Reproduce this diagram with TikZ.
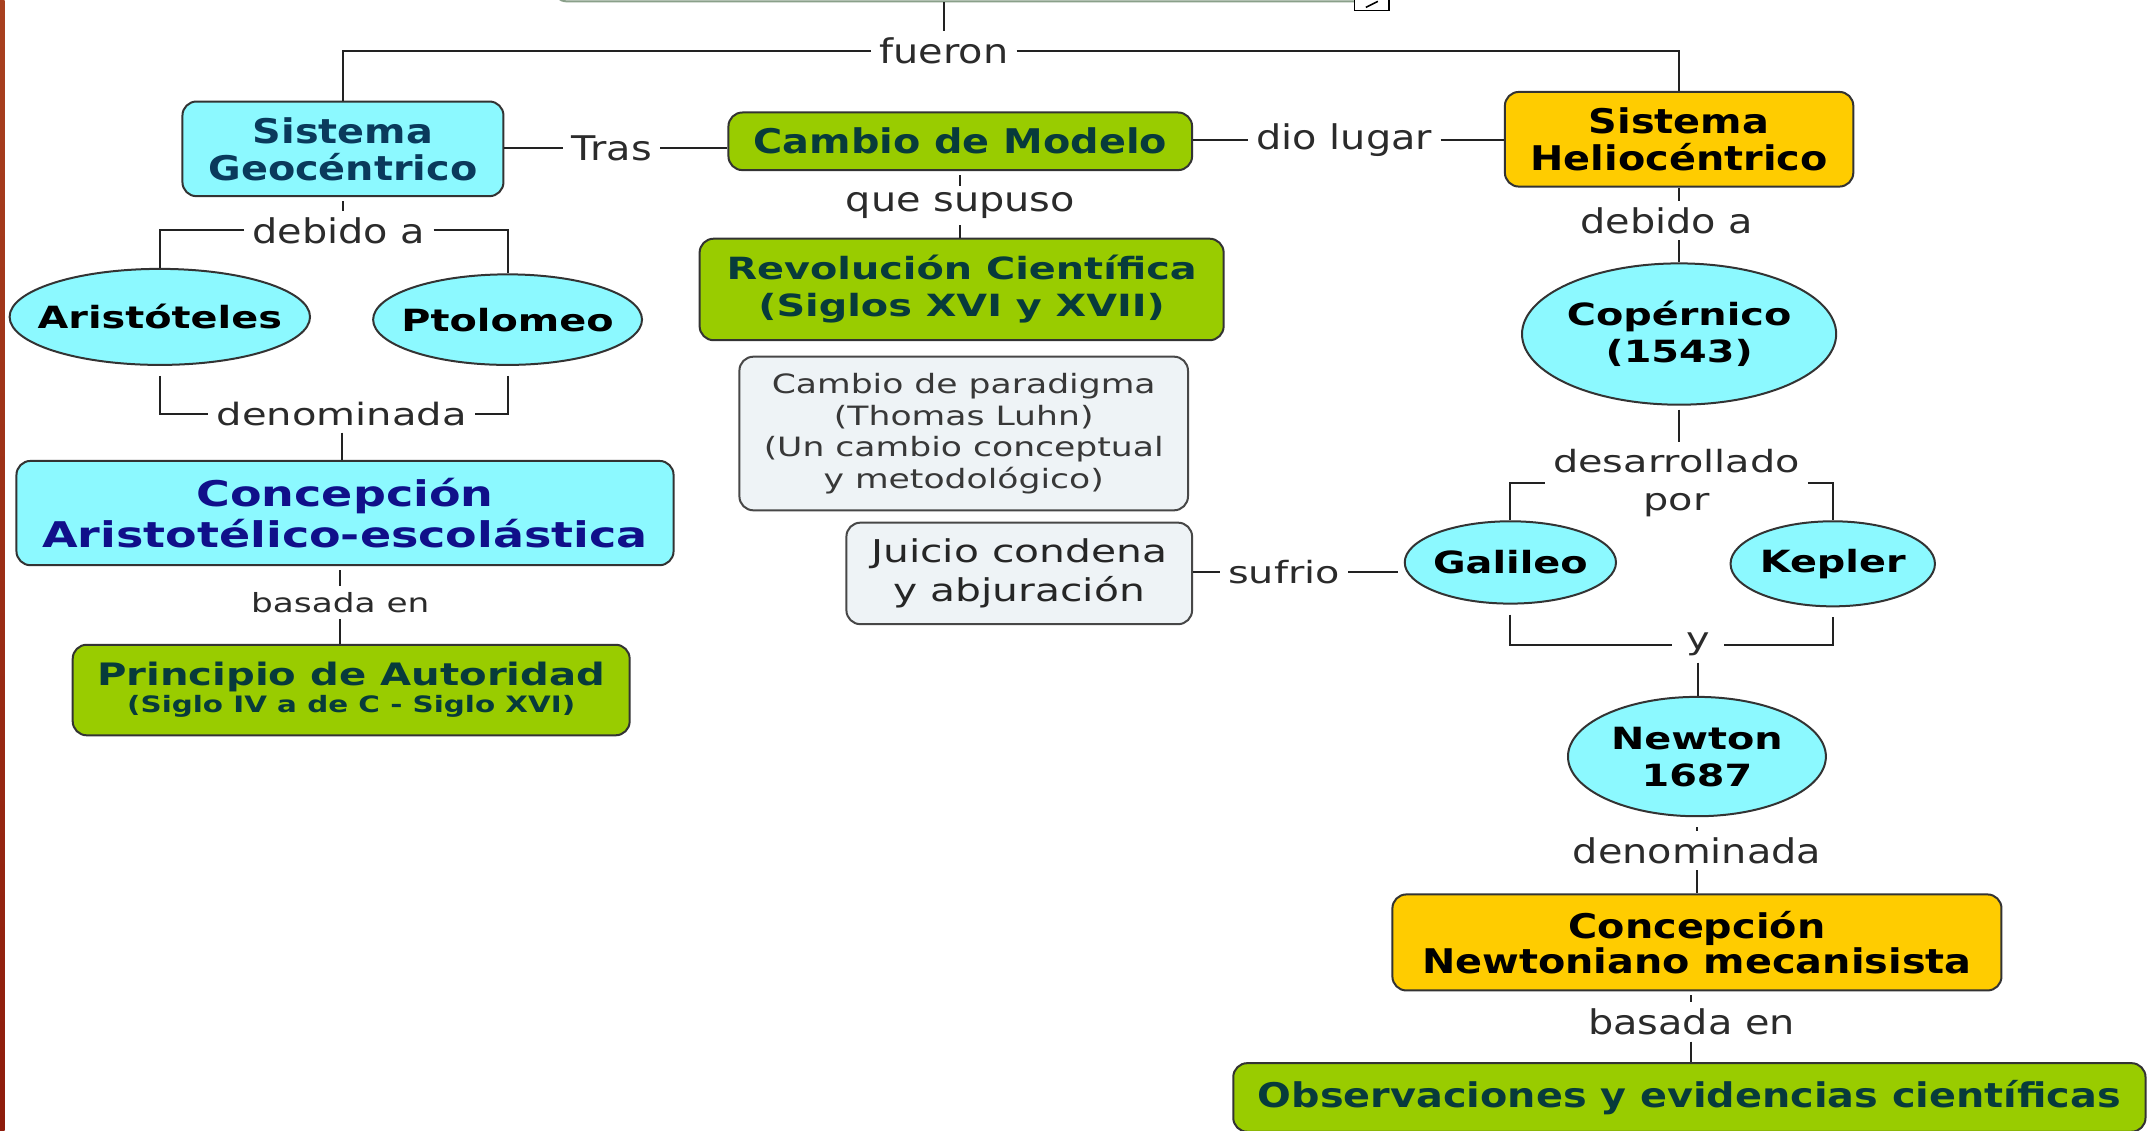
\documentclass[tikz,border=0pt]{standalone}
\usepackage{fontspec}
\setmainfont{DejaVu Sans}
\newfontfamily\famV[FakeStretch=1.3]{DejaVu Sans}
\newfontfamily\famN[FakeStretch=1.17]{DejaVu Sans}
\usetikzlibrary{shapes.geometric}
\newlength\px
\setlength\px{0.6859pt}
\definecolor{cyanf}{HTML}{8CF9FF}
\definecolor{greenf}{HTML}{99CC00}
\definecolor{goldf}{HTML}{FFCC00}
\definecolor{lightf}{HTML}{EEF3F6}
\definecolor{bordc}{HTML}{333333}
\definecolor{linec}{HTML}{222222}
\definecolor{labc}{HTML}{2B2B2B}
\definecolor{geoc}{HTML}{0A3A5C}
\definecolor{navyc}{HTML}{10108A}
\definecolor{greent}{HTML}{073B3B}
\definecolor{topc}{HTML}{8AA08A}
\definecolor{barc}{HTML}{A8401F}
\definecolor{barc2}{HTML}{8E1C0C}
\newcommand\fNB{\famN\bfseries\fontsize{17}{18.5}\selectfont}
\newcommand\fNR{\famN\fontsize{17}{19}\selectfont}
\newcommand\fVB{\famV\bfseries\fontsize{15.3}{18.5}\selectfont}
\newcommand\fVR{\famV\fontsize{15.3}{19.2}\selectfont}
\tikzset{
  concept/.style={draw=bordc, line width=1pt, rounded corners=7pt, inner sep=0pt, align=center},
  cbox/.style={concept, fill=cyanf},
  gbox/.style={concept, fill=greenf, text=greent},
  ybox/.style={concept, fill=goldf, text=black},
  lbox/.style={concept, fill=lightf, draw=bordc!90},
  ell/.style={ellipse, draw=bordc, line width=1pt, fill=cyanf, inner sep=0pt},
  elltext/.style={inner sep=0pt, align=center, text=black, font=\fVB},
  lab/.style={inner xsep=4pt, inner ysep=3pt, text=labc, align=center},
  conn/.style={draw=linec, line width=1pt}
}
\begin{document}
\begin{tikzpicture}[x=0.6859pt,y=-0.6859pt]
\useasboundingbox (0,0) rectangle (1568,824);
\clip (0,0) rectangle (1568,824);
\fill[white] (0,0) rectangle (1568,824);
\shade[top color=barc, bottom color=barc2] (0,0) rectangle (3.3,824);

% top (cut-off) concept
\node[draw=topc, line width=1pt, rounded corners=7pt, fill=white, minimum width=610\px, minimum height=80\px] (top) at (708,-39) {};
\node[draw=black, line width=0.7pt, fill=white, minimum width=25\px, minimum height=13\px, inner sep=0pt] (icon) at (1000,1) {};
\draw[line width=0.8pt] ([xshift=-3pt,yshift=-3pt]icon.center) -- ([xshift=3pt,yshift=0pt]icon.center);

% labels
\node[lab, font=\fNR] (fueron) at (688,37) {fueron};
\node[lab, font=\fNR] (tras) at (446,108) {Tras};
\node[lab, font=\fNR] (dio) at (980,102) {dio lugar};
\node[lab, font=\fNR] (que) at (700,150) {que supuso};
\node[lab, font=\fNR] (debR) at (1215,161) {debido a};
\node[lab, font=\famV\fontsize{15.3}{19.2}\selectfont] (des) at (1222,352) {desarrollado\\por};
\node[lab, font=\fVR] (sufrio) at (936,417) {sufrio};
\node[lab, font=\fVR, inner xsep=7pt] (yy) at (1238,470) {y};
\node[lab, font=\fNR] (denR) at (1237,620) {denominada};
\node[lab, font=\fNR] (basR) at (1233,745) {basada en};
\node[lab, font=\fNR] (debL) at (247,168) {debido a};
\node[lab, font=\famV\fontsize{15.4}{19}\selectfont] (denL) at (249,302) {denominada};
\node[lab, font=\famV\fontsize{13.2}{16}\selectfont] (basL) at (248,439) {basada en};

% concepts
\node[cbox, minimum width=234\px, minimum height=69\px, text=geoc, font=\fNB] (geo) at (250,108.5) {Sistema\\Geocéntrico};
\node[gbox, minimum width=338\px, minimum height=42\px, font=\fNB] (cambio) at (700,103) {Cambio de Modelo};
\node[ybox, minimum width=254\px, minimum height=69\px, font=\fNB] (helio) at (1224,101.5) {Sistema\\Heliocéntrico};
\node[gbox, minimum width=382\px, minimum height=74\px, font=\fVB] (rev) at (701,211) {Revolución Científica\\(Siglos XVI y XVII)};
\node[lbox, minimum width=327\px, minimum height=112\px, text=black!78, font=\famV\fontsize{13.3}{15.8}\selectfont] (para) at (702.5,316) {Cambio de paradigma\\(Thomas Luhn)\\(Un cambio conceptual\\y metodológico)};
\node[lbox, minimum width=252\px, minimum height=74\px, text=black!85, font=\famV\fontsize{15.7}{19.2}\selectfont] (juicio) at (743,418) {Juicio condena\\y abjuración};

\node[ell, minimum width=229\px, minimum height=103\px] (cop) at (1224,243.5) {};
\node[elltext] (copT) at (cop) {Copérnico\\(1543)};
\node[ell, minimum width=154\px, minimum height=60\px] (gal) at (1101,410) {};
\node[elltext] (galT) at (gal) {Galileo};
\node[ell, minimum width=149\px, minimum height=62\px] (kep) at (1336,411) {};
\node[elltext] (kepT) at (kep) {Kepler};
\node[ell, minimum width=188\px, minimum height=87\px] (newton) at (1237,551.5) {};
\node[elltext] (newtonT) at (newton) {Newton\\1687};
\node[ell, minimum width=219\px, minimum height=70\px] (ari) at (116.5,231) {};
\node[elltext] (ariT) at (ari) {Aristóteles};
\node[ell, minimum width=196\px, minimum height=66\px] (pto) at (370,233) {};
\node[elltext] (ptoT) at (pto) {Ptolomeo};

\node[ybox, minimum width=444\px, minimum height=70\px, font=\famN\bfseries\fontsize{17}{17.8}\selectfont] (conN) at (1237,687) {Concepción\\Newtoniano mecanisista};
\node[gbox, minimum width=665\px, minimum height=50\px, font=\fNB] (obs) at (1231.5,800) {Observaciones y evidencias científicas};
\node[cbox, minimum width=479\px, minimum height=76\px, text=navyc, font=\famV\bfseries\fontsize{17.7}{20.6}\selectfont] (conA) at (251.5,374) {Concepción\\Aristotélico-escolástica};
\node[gbox, minimum width=406\px, minimum height=66\px, font=\famV\bfseries] (princ) at (256,503) {\fontsize{15.45}{16.5}\selectfont Principio de Autoridad\\[1.5pt]\fontsize{11.3}{16.5}\selectfont (Siglo IV a de C - Siglo XVI)};

% connectors
\draw[conn] (top.south -| fueron.north) -- (fueron.north);
\draw[conn] (fueron.west) -| (geo.north);
\draw[conn] (fueron.east) -| (helio.north);
\draw[conn] (tras.west -| geo.east) -- (tras.west);
\draw[conn] (tras.east) -- (tras.east -| cambio.west);
\draw[conn] (dio.west -| cambio.east) -- (dio.west);
\draw[conn] (dio.east) -- (dio.east -| helio.west);
\draw[conn, shorten <=2pt] (cambio.south) -- (que.north);
\draw[conn] (que.south) -- (que.south |- rev.north);
\draw[conn] (helio.south) -- (helio.south |- debR.north);
\draw[conn] (helio.south |- debR.south) -- (cop.north);
\draw[conn, shorten <=2pt] (cop.south) -- (cop.south |- des.north);
\draw[conn] (des.west) -| (gal.north);
\draw[conn] (des.east) -| (kep.north);
\draw[conn, shorten <=5pt] (gal.south) |- (yy.west);
\draw[conn, shorten <=5pt] (kep.south) |- (yy.east);
\draw[conn] (yy.south) -- (yy.south |- newton.north);
\draw[conn, shorten <=5pt] (newton.south) -- (denR.north);
\draw[conn] (denR.south) -- (conN.north);
\draw[conn, shorten <=2pt] (conN.south -| basR.north) -- (basR.north);
\draw[conn] (basR.south) -- (basR.south |- obs.north);
\draw[conn] (sufrio.west -| juicio.east) -- (sufrio.west);
\draw[conn, shorten >=3pt] (sufrio.east) -- (sufrio.east -| gal.west);
\draw[conn, shorten <=2pt] (geo.south) -- (geo.south |- debL.north);
\draw[conn] (debL.west) -| (ari.north);
\draw[conn] (debL.east) -| (pto.north);
\draw[conn, shorten <=5pt] (ari.south) |- (denL.west);
\draw[conn, shorten <=5pt] (pto.south) |- (denL.east);
\draw[conn] (denL.south) -- (denL.south |- conA.north);
\draw[conn, shorten <=2pt] (conA.south -| basL.north) -- (basL.north);
\draw[conn] (basL.south) -- (basL.south |- princ.north);
\end{tikzpicture}
\end{document}
